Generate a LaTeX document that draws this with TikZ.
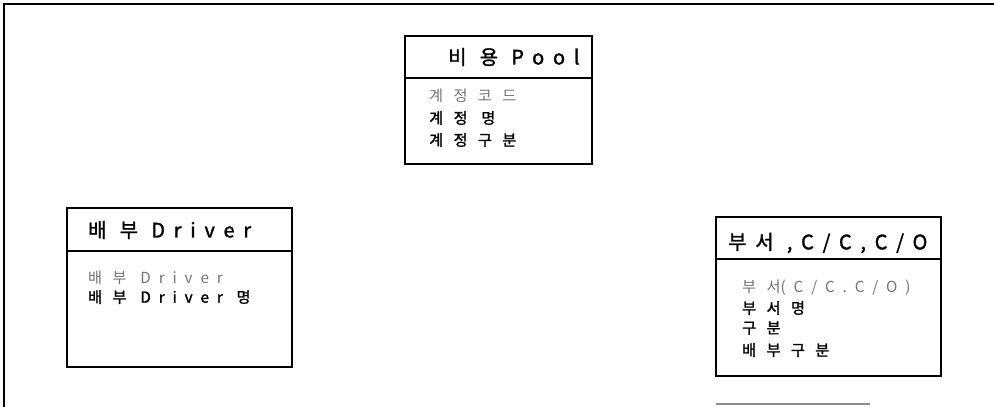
\documentclass[tikz,border=0pt]{standalone}
\usepackage{fontspec}
\newfontfamily\hdrfont[LetterSpace=44,FakeBold=1.5]{Noto Sans CJK KR}
\newfontfamily\rowfont[LetterSpace=68,FakeBold=1.5]{Noto Sans CJK KR}
\newfontfamily\keyfont[LetterSpace=68]{Noto Sans CJK KR}
\newfontfamily\latfont[LetterSpace=52,FakeBold=1.5]{Noto Sans CJK KR}
\newfontfamily\latkeyfont[LetterSpace=52]{Noto Sans CJK KR}
\newcommand{\lat}[1]{{\latfont #1}}
\newcommand{\latk}[1]{{\latkeyfont #1}}

\begin{document}
\begin{tikzpicture}[
    x=0.03cm, y=-0.03cm,
    frameline/.style={draw=black, line width=1.4pt},
    boxline/.style={draw=black, line width=1.6pt},
    hdrtext/.style={anchor=west, inner sep=0pt, font=\hdrfont\fontsize{17pt}{19pt}\selectfont},
    rowtext/.style={anchor=west, inner sep=0pt, font=\rowfont\fontsize{13pt}{15pt}\selectfont},
    keytext/.style={anchor=west, inner sep=0pt, text=black!55, font=\keyfont\fontsize{13pt}{15pt}\selectfont}
]
\useasboundingbox (0,0) rectangle (994,407);

% frame
\coordinate (frmtl) at (4,4);
\coordinate (frmtr) at (994,4);
\coordinate (frmbl) at (4,407);
\draw[frameline] (frmbl) -- (frmtl) -- (frmtr);

%------------------------------------------------
% 비용 Pool
%------------------------------------------------
\draw[boxline] (405,36) rectangle (592,164);
\draw[boxline] (405,78) -- (592,78);
\node[hdrtext] (poolhdr) at (448,57) {비 용 Pool};
\node[keytext] (poolrow1) at (429,96)  {계정코드};
\node[rowtext] (poolrow2) at (429,118) {계정 명};
\node[rowtext] (poolrow3) at (429,140) {계정구분};

%------------------------------------------------
% 배부 Driver
%------------------------------------------------
\draw[boxline] (67,208) rectangle (292,367);
\draw[boxline] (67,251) -- (292,251);
\node[hdrtext] (drvhdr) at (88,230) {배 부 Driver};
\node[keytext] (drvrow1) at (88,278) {배부 \latk{Driver}};
\node[rowtext] (drvrow2) at (88,297) {배부 \lat{Driver} 명};

%------------------------------------------------
% 부서,C/C,C/O
%------------------------------------------------
\draw[boxline] (716,217) rectangle (941,376);
\draw[boxline] (716,259) -- (941,259);
\node[hdrtext] (depthdr) at (728,243) {부서 ,C/C,C/O};
\node[keytext] (deptrow1) at (742,288) {부서\latk{(C/C.C/O)}};
\node[rowtext] (deptrow2) at (742,308) {부서명};
\node[rowtext] (deptrow3) at (742,328) {구분};
\node[rowtext] (deptrow4) at (742,350) {배부구분};

% scan remnant
\coordinate (remL) at (716,404);
\coordinate (remR) at (870,404);
\draw[draw=black!45, line width=1pt] (remL) -- (remR);
\end{tikzpicture}
\end{document}
